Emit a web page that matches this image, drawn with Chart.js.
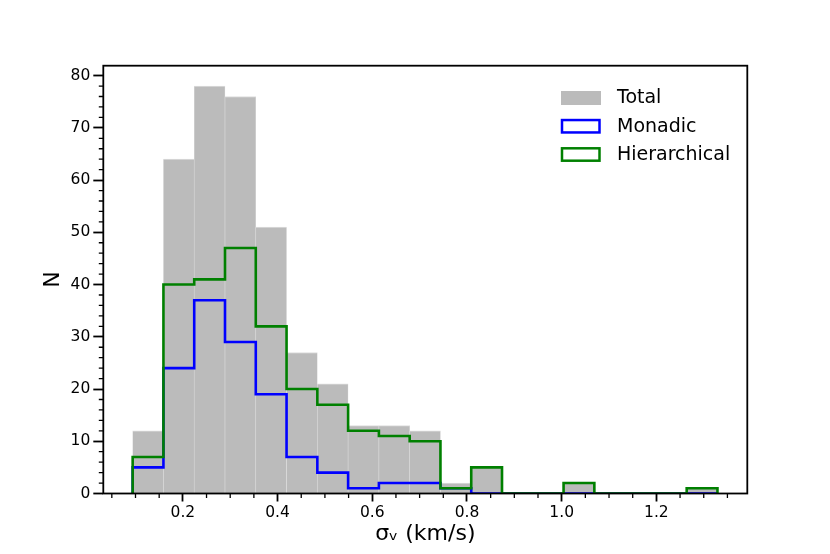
<!DOCTYPE html>
<html>
<head>
<meta charset="utf-8">
<script src="https://cdn.jsdelivr.net/npm/chart.js@4.4.1/dist/chart.umd.min.js"></script>
<style>
html,body{margin:0;padding:0;background:#fff;}
#wrap{width:830px;height:554px;position:relative;}
</style>
</head>
<body>
<div id="wrap"><canvas id="c" width="830" height="554"></canvas></div>
<script>
// ---- data ----
const binEdges = [0.094,0.159,0.224,0.289,0.354,0.419,0.484,0.549,0.614,0.679,0.744,0.809,0.874,0.939,1.004,1.069,1.134,1.199,1.264,1.329];
const totalCounts        = [12,64,78,76,51,27,21,13,13,12,2,5,0,0,2,0,0,0,1];
const monadicCounts      = [5,24,37,29,19,7,4,1,2,2,1,0,0,0,0,0,0,0,0];
const hierarchicalCounts = [7,40,41,47,32,20,17,12,11,10,1,5,0,0,2,0,0,0,1];
const seriesLabels = ['Total','Monadic','Hierarchical'];
const xTicks = [0.2,0.4,0.6,0.8,1.0,1.2];
const yTicks = [0,10,20,30,40,50,60,70,80];
const xRange = [0.032, 1.392];
const yRange = [0, 81.9];
const xTitle = 'σᵥ (km/s)';
const yTitle = 'N';

// ---- build library structures ----
const FONT = "'DejaVu Sans', 'Liberation Sans', sans-serif";
const barPoints = totalCounts.map((c,i)=>({x:(binEdges[i]+binEdges[i+1])/2, y:c}));
function stepPoints(counts){
  const pts=[{x:binEdges[0],y:0}];
  counts.forEach((c,i)=>pts.push({x:binEdges[i],y:c}));
  pts.push({x:binEdges[binEdges.length-1],y:0});
  return pts;
}

const extras = {
  id:'extras',
  afterDraw(chart){
    const ctx=chart.ctx, a=chart.chartArea, xs=chart.scales.x, ys=chart.scales.y;
    ctx.save();
    // minor ticks
    ctx.strokeStyle='#000'; ctx.lineWidth=1.3;
    ctx.beginPath();
    for(let k=1;k<40;k++){
      if(k%4===0) continue;
      const v=k*0.05; if(v<xRange[0]||v>xRange[1]) continue;
      const px=xs.getPixelForValue(v);
      ctx.moveTo(px,a.bottom); ctx.lineTo(px,a.bottom+4.5);
    }
    for(let k=1;k<50;k++){
      if(k%5===0) continue;
      const v=k*2; if(v>yRange[1]) continue;
      const py=ys.getPixelForValue(v);
      ctx.moveTo(a.left,py); ctx.lineTo(a.left-4.5,py);
    }
    ctx.stroke();
    // spines
    ctx.lineWidth=1.8; ctx.strokeStyle='#000';
    ctx.strokeRect(a.left,a.top,a.right-a.left,a.bottom-a.top);
    // legend
    const ds=chart.data.datasets;
    const bx=561, bw=39.5, bh=14, y0=98, dy=28.25, tx=617;
    ctx.font="19px "+FONT; ctx.textBaseline='middle'; ctx.textAlign='left';
    seriesLabels.forEach((lab,i)=>{
      const d=ds.find(q=>q.label===lab);
      const cy=y0+i*dy;
      if(d.type==='bar'){
        ctx.fillStyle=d.backgroundColor; ctx.fillRect(bx,cy-bh/2,bw+0.5,bh);
      } else {
        ctx.lineWidth=2.5; ctx.strokeStyle=d.borderColor;
        ctx.strokeRect(bx+1,cy-bh/2+0.8,bw-2,bh-1.6);
      }
      ctx.fillStyle='#000'; ctx.fillText(lab,tx,cy+0.5);
    });
    ctx.restore();
  }
};

new Chart(document.getElementById('c'),{
  type:'bar',
  data:{
    datasets:[
      {type:'bar',label:seriesLabels[0],data:barPoints,backgroundColor:'#bbbbbb',
       borderColor:'#dddddd',borderWidth:{top:1,left:0.6,right:0.6,bottom:0},
       barPercentage:1,categoryPercentage:1,order:3},
      {type:'line',label:seriesLabels[1],data:stepPoints(monadicCounts),stepped:'before',
       borderColor:'#0000ff',borderWidth:2.6,pointRadius:0,fill:false,tension:0,order:2,borderJoinStyle:'miter'},
      {type:'line',label:seriesLabels[2],data:stepPoints(hierarchicalCounts),stepped:'before',
       borderColor:'#008000',borderWidth:2.6,pointRadius:0,fill:false,tension:0,order:1,borderJoinStyle:'miter'}
    ]
  },
  options:{
    responsive:false,animation:false,devicePixelRatio:1,
    layout:{padding:{left:0,right:82.7,top:65.7,bottom:0}},
    plugins:{legend:{display:false},tooltip:{enabled:false}},
    scales:{
      x:{type:'linear',min:xRange[0],max:xRange[1],offset:false,
        afterBuildTicks:s=>{s.ticks=xTicks.map(v=>({value:v}));},
        afterFit:s=>{s.height=60.5;},
        grid:{display:true,drawOnChartArea:false,drawTicks:true,tickLength:8,tickWidth:1.8,tickColor:'#000',offset:false},
        border:{display:false},
        ticks:{color:'#000',font:{family:FONT,size:15.5},padding:2,maxRotation:0,autoSkip:false,
          callback:v=>Number(v).toFixed(1)},
        title:{display:true,text:xTitle,color:'#000',font:{family:FONT,size:22},padding:{top:0,bottom:6.4}}
      },
      y:{type:'linear',min:yRange[0],max:yRange[1],
        afterBuildTicks:s=>{s.ticks=yTicks.map(v=>({value:v}));},
        afterFit:s=>{s.width=103.3;},
        grid:{display:true,drawOnChartArea:false,drawTicks:true,tickLength:10,tickWidth:1.8,tickColor:'#000'},
        border:{display:false},
        ticks:{color:'#000',font:{family:FONT,size:15.5},padding:3,autoSkip:false,callback:v=>String(v)},
        title:{display:true,text:yTitle,color:'#000',font:{family:FONT,size:22},padding:{top:40.5,bottom:0}}
      }
    }
  },
  plugins:[extras]
});
</script>
</body>
</html>
